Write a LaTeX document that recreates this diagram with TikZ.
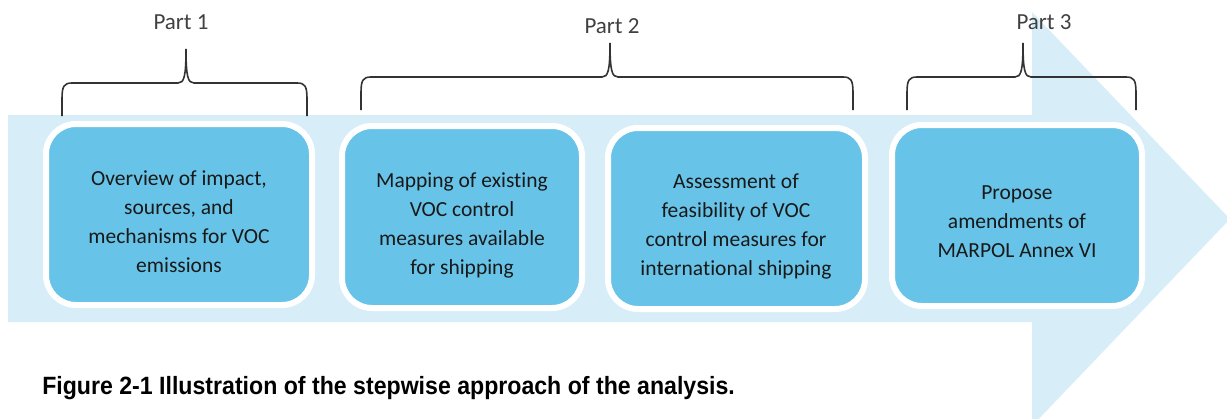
\documentclass[tikz,border=0pt]{standalone}
\usepackage{fontspec}
\setmainfont[Ligatures=CommonOff]{Carlito}
\newfontfamily\capfont{Liberation Sans}
\begin{document}
\begin{tikzpicture}[x=1pt,y=-1pt,
  stagebox/.style={draw=white,line width=6pt,fill=stageblue,rounded corners=30pt},
  stagetext/.style={align=center,font=\fontsize{21.5}{29}\selectfont,text=black!90},
  partlabel/.style={font=\fontsize{23}{27}\selectfont,text=black!75},
  bracket/.style={draw=black!80,line width=1.6pt}]
\definecolor{arrowblue}{HTML}{D7EEF8}
\definecolor{stageblue}{HTML}{67C4E8}
\useasboundingbox (0,0) rectangle (1227,418);

% background arrow
\begin{scope}
  \clip (0,0) rectangle (1227,418);
  \fill[arrowblue] (8,115) -- (1032,115) -- (1032,12) -- (1230,219)
     -- (1032,426) -- (1032,322) -- (8,322) -- cycle;
\end{scope}

% stage boxes
\draw[stagebox] (46,124) rectangle (312,305);
\draw[stagebox] (342,126) rectangle (582,308);
\draw[stagebox] (608,128) rectangle (865,309);
\draw[stagebox] (892,125) rectangle (1142,306);

\node[stagetext] (s1) at (179,222) {Overview of impact,\\sources, and\\mechanisms for VOC\\emissions};
\node[stagetext] (s2) at (462,225) {Mapping of existing\\VOC control\\measures available\\for shipping};
\node[stagetext] (s3) at (736,226) {Assessment of\\feasibility of VOC\\control measures for\\international shipping};
\node[stagetext] (s4) at (1017,222) {Propose\\amendments of\\MARPOL Annex VI};

% braces grouping the stages
\newcommand{\groupbrace}[6]{%
  \draw[bracket] (#1,#4) -- (#1,#3+16)
    .. controls (#1,#3+3) and (#1+2,#3) .. (#1+10,#3)
    -- (#5-8,#3) .. controls (#5-2,#3) and (#5,#3-6) .. (#5,#6)
    .. controls (#5,#3-6) and (#5+2,#3) .. (#5+8,#3)
    -- (#2-10,#3) .. controls (#2-2,#3) and (#2,#3+3) .. (#2,#3+16)
    -- (#2,#4);}
\groupbrace{62}{307}{83}{116}{186}{49}
\groupbrace{361}{853}{77}{110}{610}{43}
\groupbrace{907}{1136}{77}{110}{1023}{43}

\node[partlabel] (p1) at (181,22) {Part 1};
\node[partlabel] (p2) at (612,26) {Part 2};
\node[partlabel] (p3) at (1044,22) {Part 3};

% caption
\node[anchor=west,xscale=0.925,font=\capfont\bfseries\fontsize{25}{29}\selectfont] (cap) at (39,388)
  {Figure 2-1 Illustration of the stepwise approach of the analysis.};
\end{tikzpicture}
\end{document}
